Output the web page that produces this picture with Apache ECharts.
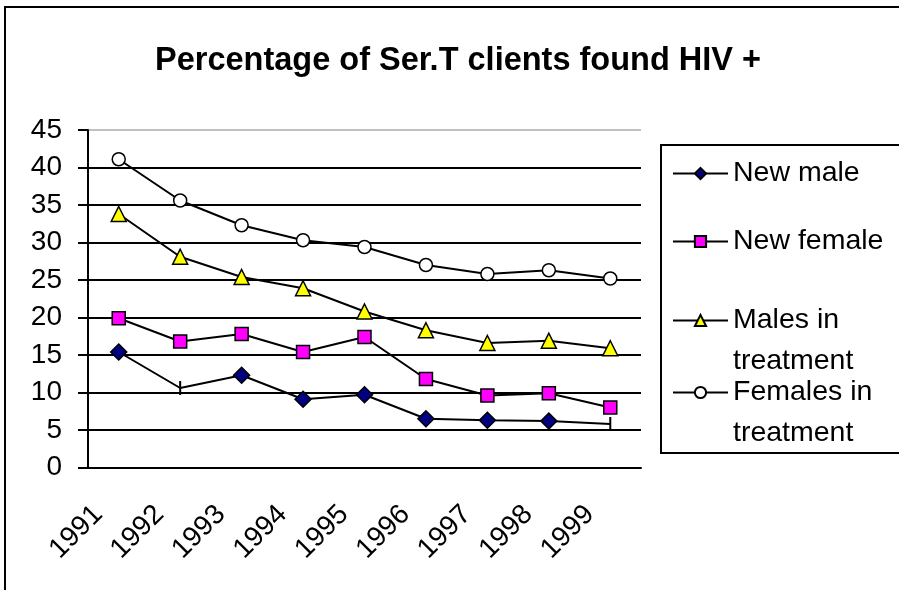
<!DOCTYPE html>
<html>
<head>
<meta charset="utf-8">
<script src="https://cdn.jsdelivr.net/npm/echarts@6/dist/echarts.min.js"></script>
<style>
html,body{margin:0;padding:0;background:#fff;}
#main{width:899px;height:590px;}
</style>
</head>
<body>
<div id="main"></div>
<script>
var years = ['1991','1992','1993','1994','1995','1996','1997','1998','1999'];
var newMale = [15.4, 10.6, 12.3, 9.1, 9.7, 6.5, 6.3, 6.2, 5.8];
var newFemale = [19.9, 16.8, 17.8, 15.4, 17.4, 11.8, 9.6, 9.9, 8.0];
var malesTreat = [33.8, 28.1, 25.4, 23.9, 20.8, 18.3, 16.6, 16.9, 15.9];
var femalesTreat = [41.1, 35.6, 32.3, 30.3, 29.4, 27.0, 25.8, 26.3, 25.2];
// points drawn as a plain dash instead of a diamond
var maleDash = [1, 8];

var font = 'Liberation Sans, Arial, sans-serif';
var myChart = echarts.init(document.getElementById('main'));

function legendAt(name, top, twoLines){
	return {
		data: [name],
		left: 672,
		top: top,
		padding: 0,
		itemWidth: 55,
		itemHeight: 14,
		itemGap: 0,
		selectedMode: false,
		// blank first line so the icon sits beside the first real line
		formatter: twoLines ? function(n){ return '\u00a0\n' + n; } : null,
		textStyle: {
			fontFamily: font,
			fontSize: 28.5,
			color: '#000',
			lineHeight: 41
		}
	};
}

var maleData = newMale.map(function(v, i){
	if (maleDash.indexOf(i) >= 0) {
		return {value: v, symbol: 'rect', symbolSize: [2, 14], itemStyle: {color: '#000', borderWidth: 0}};
	}
	return v;
});

var option = {
	backgroundColor: '#fff',
	animation: false,
	title: {
		text: 'Percentage of Ser.T clients found HIV +',
		left: 453,
		textAlign: 'center',
		top: 40,
		textStyle: {fontFamily: font, fontSize: 32.5, fontWeight: 'bold', color: '#000'}
	},
	legend: [
		legendAt('New male', 153, false),
		legendAt('New female', 221, false),
		legendAt('Males in\ntreatment', 259, true),
		legendAt('Females in\ntreatment', 331, true)
	],
	grid: {left: 88, right: 258, top: 130, bottom: 122.5},
	xAxis: {
		type: 'category',
		data: years,
		boundaryGap: true,
		axisLine: {lineStyle: {color: '#000', width: 2}},
		axisTick: {length: 10, lineStyle: {color: '#000', width: 2}},
		axisLabel: {
			rotate: 45,
			interval: 0,
			margin: 22,
			padding: [0, 29, 0, 0],
			fontFamily: font,
			fontSize: 28,
			color: '#000'
		}
	},
	yAxis: {
		type: 'value',
		min: 0,
		max: 45,
		interval: 5,
		axisLine: {show: true, lineStyle: {color: '#000', width: 2}},
		axisTick: {show: true, length: 10, lineStyle: {color: '#000', width: 2}},
		axisLabel: {margin: 26, fontFamily: font, fontSize: 28, color: '#000'},
		splitLine: {
			show: true,
			lineStyle: {
				color: ['#000','#000','#000','#000','#000','#000','#000','#000','#000','#c0c0c0'],
				width: 2
			}
		}
	},
	graphic: [
		{type: 'rect', shape: {x: 5, y: 7, width: 920, height: 620}, style: {fill: null, stroke: '#000', lineWidth: 2}, silent: true},
		{type: 'rect', shape: {x: 661, y: 145, width: 260, height: 308}, style: {fill: null, stroke: '#000', lineWidth: 2}, silent: true}
	],
	series: [
		{
			name: 'New male',
			type: 'line',
			data: maleData,
			symbol: 'diamond',
			symbolSize: 16,
			showAllSymbol: true,
			itemStyle: {color: '#000080', borderColor: '#000', borderWidth: 1.5},
			lineStyle: {color: '#000', width: 2}
		},
		{
			name: 'New female',
			type: 'line',
			data: newFemale,
			symbol: 'rect',
			symbolSize: 13,
			showAllSymbol: true,
			itemStyle: {color: '#ff00ff', borderColor: '#000', borderWidth: 1.5},
			lineStyle: {color: '#000', width: 2}
		},
		{
			name: 'Males in\ntreatment',
			type: 'line',
			data: malesTreat,
			symbol: 'triangle',
			symbolSize: 15,
			showAllSymbol: true,
			itemStyle: {color: '#ffff00', borderColor: '#000', borderWidth: 1.5},
			lineStyle: {color: '#000', width: 2}
		},
		{
			name: 'Females in\ntreatment',
			type: 'line',
			data: femalesTreat,
			symbol: 'circle',
			symbolSize: 13,
			showAllSymbol: true,
			itemStyle: {color: '#fff', borderColor: '#000', borderWidth: 1.5},
			lineStyle: {color: '#000', width: 2}
		}
	]
};
myChart.setOption(option);
</script>
</body>
</html>
